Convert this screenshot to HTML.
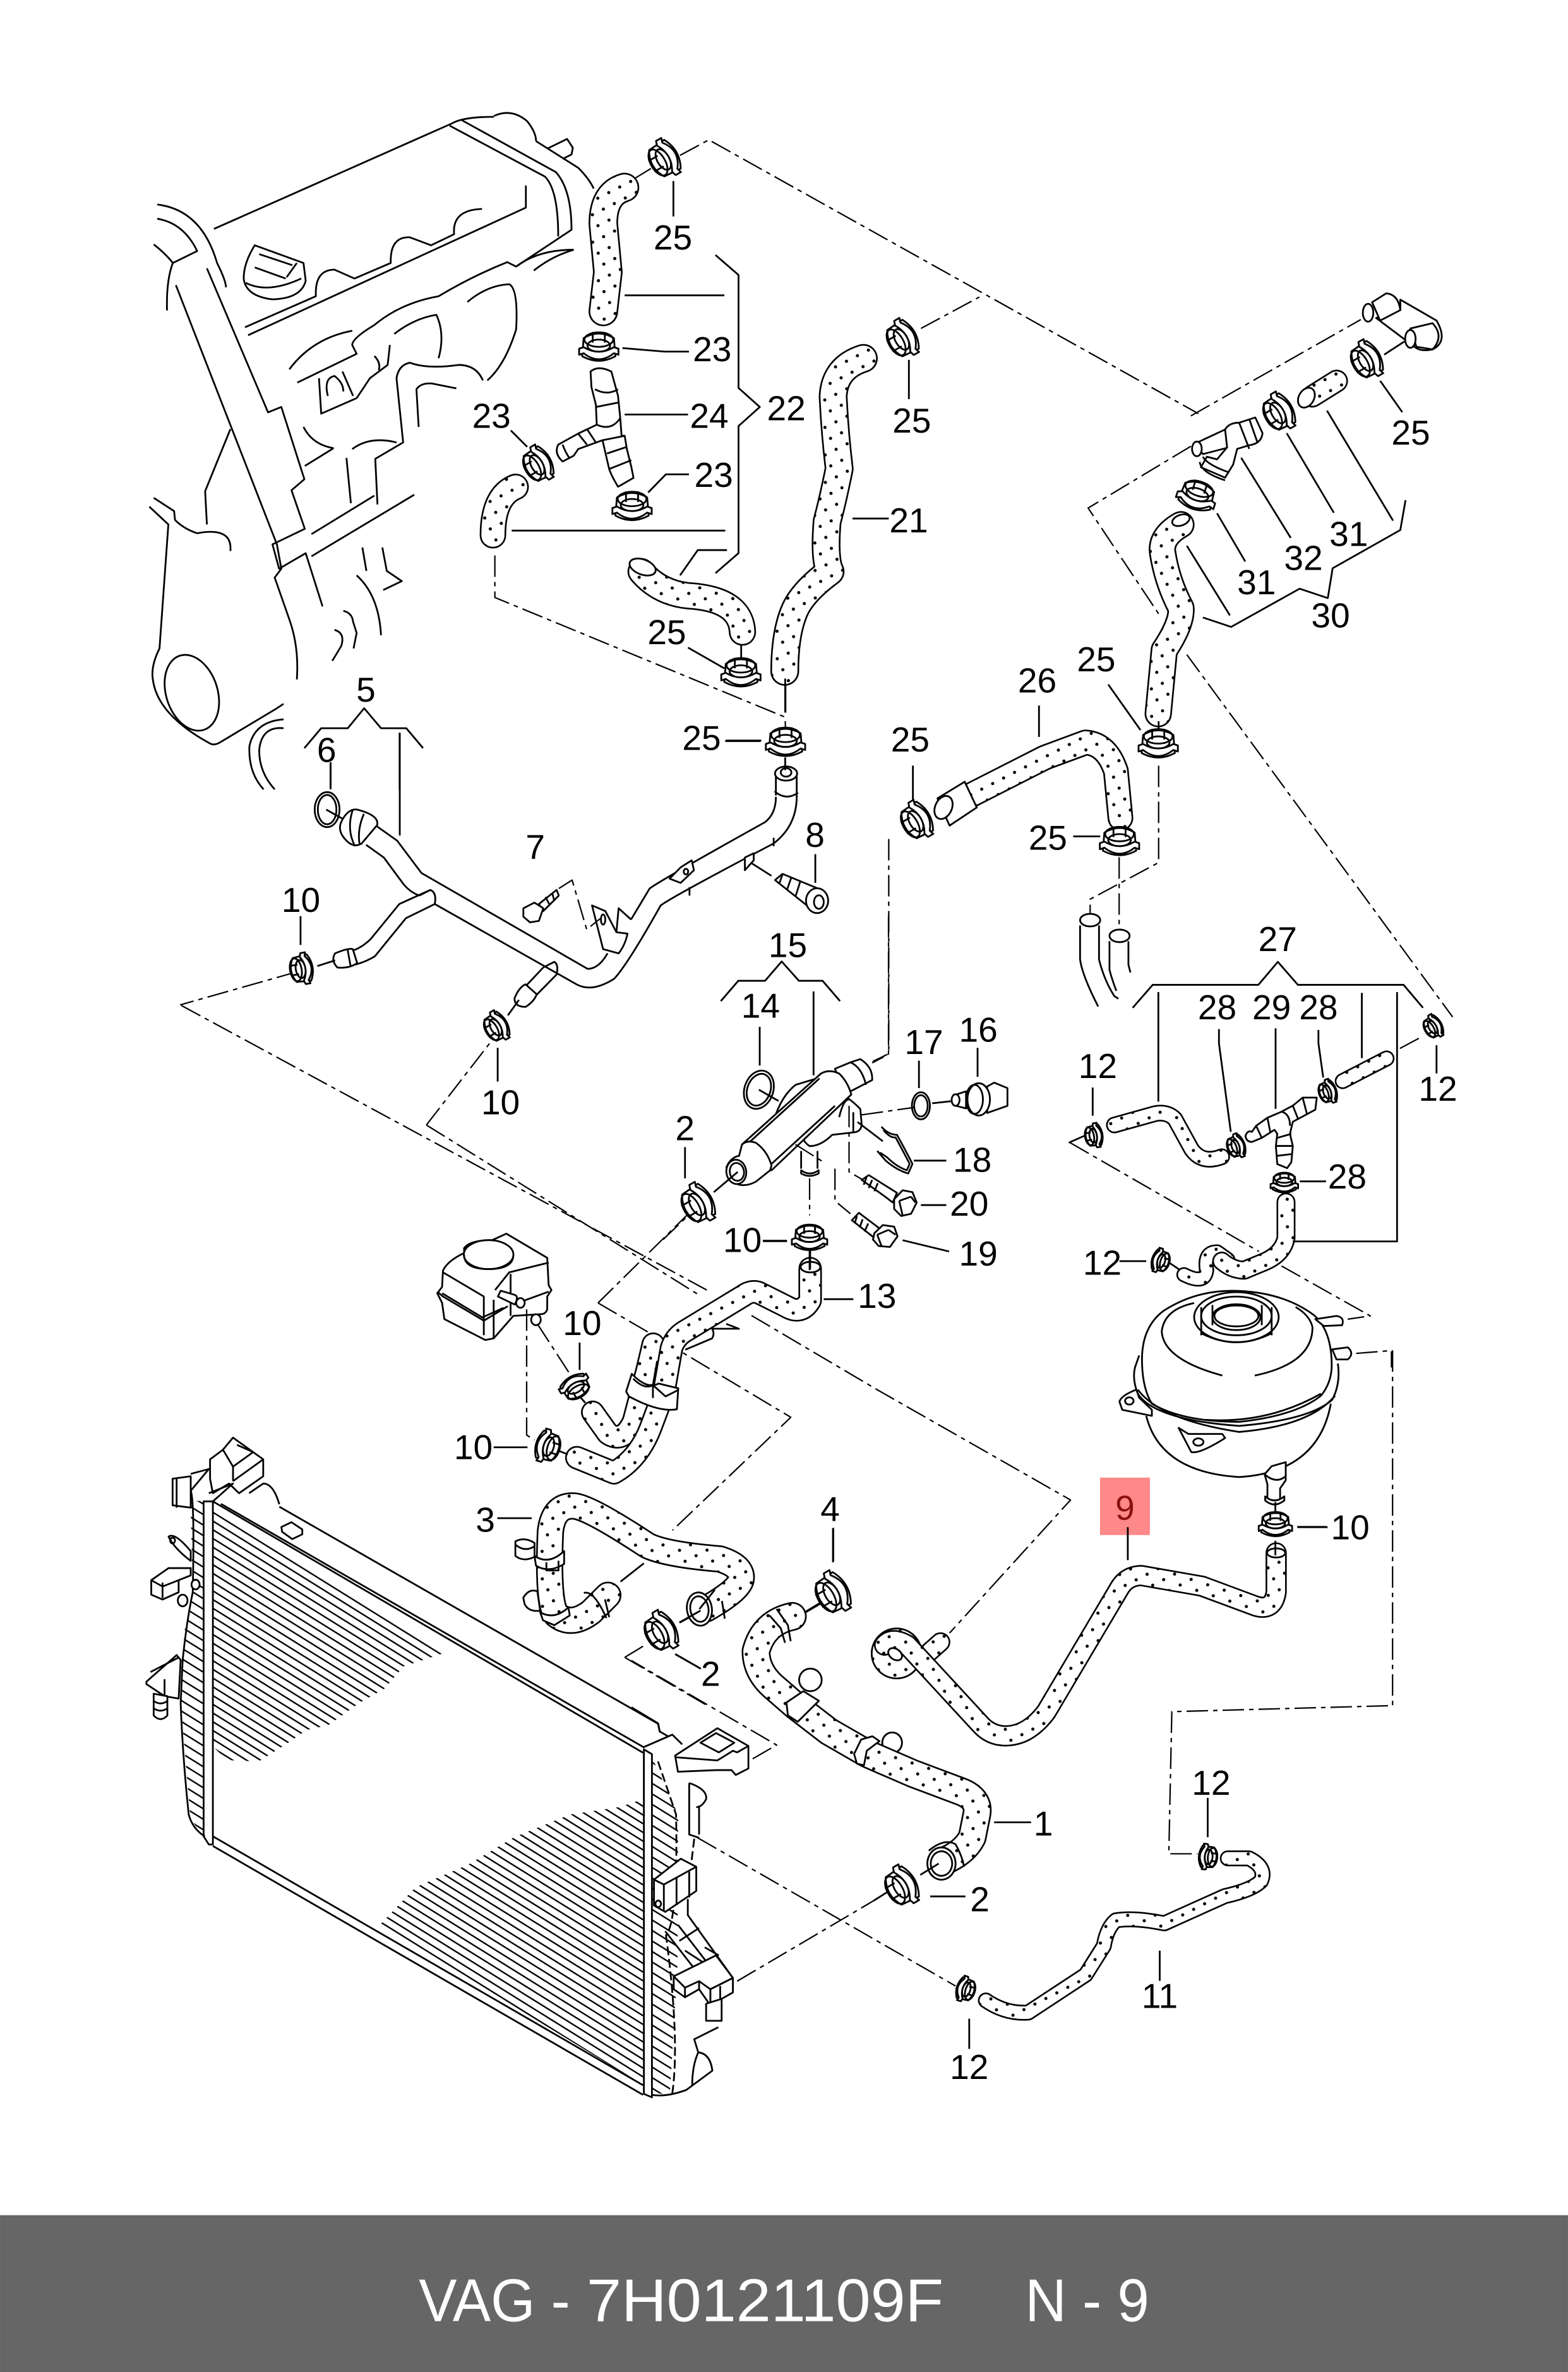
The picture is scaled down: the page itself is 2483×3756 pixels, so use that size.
<!DOCTYPE html>
<html><head><meta charset="utf-8"><title>VAG 7H0121109F</title>
<style>
html,body{margin:0;padding:0;background:#fff}
svg{display:block;position:absolute;left:0;top:0;width:2483px;height:3756px}
.a *{vector-effect:non-scaling-stroke}
.a{fill:none;stroke:#000;stroke-width:2.8;stroke-linejoin:round}
.w{fill:#fff}
.d{stroke-dasharray:34 8 7 8;stroke-width:2.2}
.o{stroke:#000;vector-effect:none!important;stroke-linecap:round}
.f{stroke:url(#p);vector-effect:none!important;stroke-linecap:round}
.t text{fill:#000;stroke:none;font-family:"Liberation Sans",sans-serif;font-size:23px;text-anchor:middle}
</style></head><body>
<svg xmlns="http://www.w3.org/2000/svg" viewBox="0 0 1037 1568.7">
<rect width="1037" height="1569" fill="#fff"/>
<rect x="727.5" y="977.2" width="33" height="38" fill="#ff8888"/>
<defs>
<pattern id="p" width="11.5" height="11.5" patternUnits="userSpaceOnUse" patternTransform="rotate(18)" stroke="none"><rect width="11.5" height="11.5" fill="#fff" stroke="none"/><circle cx="2.5" cy="2.5" r="1.05" fill="#000" stroke="none"/><circle cx="8.25" cy="8.25" r="1.05" fill="#000" stroke="none"/></pattern>
<pattern id="r" width="10" height="4.9" patternUnits="userSpaceOnUse" patternTransform="rotate(31.9)" stroke="none"><rect width="10" height="1" fill="#000" stroke="none"/></pattern>
<pattern id="r2" width="10" height="5.9" patternUnits="userSpaceOnUse" patternTransform="rotate(31.9)" stroke="none"><rect width="10" height="1" fill="#000" stroke="none"/></pattern>
</defs>
<g class="a">
<defs>
<g id="c">
<path class="w" d="M-10 -6 Q0 -12 10 -6 L11 6 Q0 12 -11 6Z"/>
<ellipse cx="0" cy="-5" rx="9.5" ry="4.8"/>
<ellipse cx="0" cy="-1" rx="7.5" ry="4"/>
<path class="w" d="M-13 1 L-10 0 Q0 6 10 0 L13 1 L13 5 L10 4 Q0 12 -10 4 L-13 5Z"/>
<path d="M-4 -10 V-3 M4 -10 V-3"/>
</g>
</defs>

<!-- engine -->
<g transform="translate(83.5,62.6) scale(.293)">
<path d="M198 303 L735 65 Q760 50 830 50 M830 48 Q870 30 905 60 Q925 85 925 105 M950 122 L995 100 L1008 120 L1005 135 L985 145"/>
<path d="M730 70 L945 185 Q975 215 975 320 M758 58 L970 175 Q1005 215 1005 305 L880 388 M925 105 L1020 165 Q1045 190 1055 212"/>
<path d="M268 525 L428 455 Q425 395 470 395 L515 415 L597 380 Q595 320 640 322 L688 340 L740 315 Q735 260 803 258 M275 543 L902 255 V205"/>
<path d="M265 415 Q265 380 290 340 L400 380 L405 420 Q395 460 330 462 Q270 455 265 415 M290 390 L360 415 M300 360 L375 385 M385 380 L362 412 M270 425 Q320 450 395 415"/>
<path d="M70 248 Q170 260 205 380 Q225 420 225 435 M70 280 Q130 290 160 353 L105 380 Q90 420 92 487 M62 338 Q90 360 105 380"/>
<path d="M112 430 L340 1015 L350 1070 L335 1090 L370 1190 Q390 1250 385 1320 M182 392 L320 717 L350 705 L402 868 L373 893 L403 980 L330 1015 L345 1070 L405 1035 L443 1155"/>
<path d="M235 755 L178 895 L182 970 M52 930 L95 970 L75 1250 Q55 1290 60 1320 Q70 1400 190 1465 Q200 1470 215 1460 L340 1385 L355 1375 M62 910 L108 940 L110 960 Q130 980 160 990 Q240 975 235 1030"/>
<ellipse cx="148" cy="1350" rx="58" ry="88" transform="rotate(-18 148 1350)"/>
<path d="M368 620 Q420 550 510 533 M386 650 L520 585 L510 565 Q510 550 560 520 Q620 470 705 455 Q780 410 860 378 L880 388 Q930 350 1010 350 M920 397 Q960 365 1010 350 M770 468 Q815 430 865 428 Q885 440 880 530 Q855 610 815 645 M605 540 Q650 505 700 497 Q720 540 705 595 M520 685 L550 640 L590 610 L595 565 M560 590 Q575 605 570 622 M435 640 L440 720 L520 685 M455 680 Q445 640 470 635 Q490 650 490 670 M488 625 L512 680"/>
<path d="M805 645 Q790 610 750 610 Q680 620 640 605 Q615 610 610 640 L625 785 L562 822 L567 925 M660 750 L655 665 Q665 650 690 652 L745 663 M400 750 Q420 790 468 798 M403 838 L468 798 M510 800 Q550 770 610 785 M497 820 L507 922 M418 992 L560 905 M418 1042 L650 903 M533 1022 L542 1075 M578 1022 L588 1075 L622 1098 L580 1118 M520 1085 Q570 1130 575 1220 M490 1165 Q510 1170 512 1190 L520 1215 L513 1250 M470 1208 Q495 1215 485 1245 L465 1278"/>
<path d="M355 1410 Q290 1415 278 1470 Q275 1530 310 1568 M355 1430 Q305 1425 300 1480 Q300 1530 335 1568"/>
<!-- leaders -->
<path d="M1235 195 V275 M1125 453 H1350 M1120 572 L1215 580 H1270 M1125 722 H1268 M868 758 L905 795 M1178 898 L1218 857 H1270 M870 984 H1352 M1250 1085 L1290 1028 H1356 M1330 1080 L1382 1035 V748 L1430 705 L1382 662 V407 L1330 362 M1268 1248 L1350 1295 M1388 1238 V1300 M1352 1459 H1432 M1488 1320 V1395"/>
<path class="d" d="M1143 192 L1195 160 M1250 137 L1315 102 L2420 720 M832 1040 V1135 L1487 1405 L1488 1430"/>
<path d="M402 1475 L440 1430 H500 L537 1385 L575 1430 H632 L670 1475 M617 1440 V1568 M461 1510 V1568"/>
</g>

<!-- long dashes at root -->
<path class="d" d="M120 665 L469 854 M282 744 L461.6 856 M497 870 L580 919 L708 992 L628 1080 M282 744 L330 682"/>
<path class="d" d="M395.5 861.7 L458 800 M395.5 861.7 L435.5 885 L523 937.3 L444.8 1012"/>
<path class="d" d="M921 893 V1128 L775 1132 L773 1226 H792"/>

<!-- radiator hatch -->
<polygon fill="url(#r)" stroke="none" points="140.8,995.5 296.6,1092.3 267,1102 254,1117 238,1126 217,1141 203,1144 190,1153 171,1165 150,1164 140.8,1155"/>
<polygon fill="url(#r)" stroke="none" points="425.3,1189.8 410,1195 377,1200 340,1215 310,1233 275,1248 251.3,1272.9 425.3,1379"/>
<polygon fill="url(#r2)" stroke="none" points="126,992 134.6,993 134.6,1214.4 126,1203 119.5,1126.5 122,1078.6 127.5,1053"/>
<polygon fill="url(#r2)" stroke="none" points="431,1161.7 448.5,1200 448,1300 443,1385.4 431,1383.8"/>

<!-- radiator -->
<g transform="translate(83.5,918.8) scale(.2664,.3196)">
<path d="M380 243 L1320 692 L1325 710 M235 237 L1283 740 M215 232 L1283 752 M215 925 L1283 1440 M215 945 L1283 1460"/>
<path class="w" d="M192 232 H215 V942 L205 942 L192 925Z"/>
<path class="w" d="M1285 745 L1305 755 V1465 L1285 1458Z"/>
<path d="M160 210 Q170 230 165 420 Q150 480 140 560 L135 650 Q140 760 155 880 Q165 910 195 925"/>
<path d="M1305 1460 Q1340 1465 1390 1450 L1455 1410 Q1450 1375 1420 1372 L1410 1345 L1470 1320 M1420 1372 Q1405 1400 1405 1440"/>
<path stroke-dasharray="14 6" d="M1320 770 L1365 880 Q1370 1100 1340 1130 Q1375 1350 1355 1460 M1410 930 L1400 1000"/>
<path class="w" d="M208 185 V145 L240 125 L265 100 L340 145 V180 L280 215 L255 195 L215 215Z"/>
<path d="M240 125 L265 160 L315 130 L275 115 M265 160 V190 M340 145 L265 190"/>
<path d="M160 175 L205 165 L160 210 M115 185 L160 180 V245 L115 240Z M125 185 V245 M205 215 L265 195 L215 232 M380 238 Q365 195 340 195 L305 215"/>
<path class="w" d="M385 285 L410 275 L437 290 V300 L412 310 L387 295Z"/>
<path class="w" d="M105 305 Q120 295 160 335 V355 Q120 330 105 305Z"/><circle cx="115" cy="313" r="6"/>
<path class="w" d="M62 395 L105 370 H160 V385 L130 395 V420 L90 435 L62 425Z"/><path d="M90 400 V432 M62 395 L90 408 L130 395"/>
<ellipse class="w" cx="172" cy="404" rx="10" ry="10"/><ellipse class="w" cx="140" cy="437" rx="12" ry="12"/>
<path class="w" d="M50 605 L125 550 L135 560 L130 640 L95 635 L50 610Z"/><path d="M60 585 L130 555 M95 600 V635"/>
<path class="w" d="M68 630 V675 Q85 690 102 675 V635Z"/><path d="M68 645 Q85 655 102 645 M68 660 Q85 670 102 660"/>
</g>
<g transform="translate(417.6,1002.3) scale(.1864,.2131)">
<path class="w" d="M155 745 L305 660 L415 715 V785 L370 805 L355 790 L300 790 L165 795Z"/>
<path d="M245 705 L300 675 L365 705 L310 735Z M155 750 L305 760 L360 730 L375 735 L415 715 M40 720 L145 680 L180 710 M95 645 L100 670 L130 685 M0 595 L95 645"/>
<path d="M205 830 Q270 850 265 880 Q250 905 230 905 M240 900 V990 M205 830 V990 L240 1000"/>
<path class="w" d="M80 1130 L175 1065 L230 1090 V1165 L120 1230 L80 1210Z"/>
<path d="M115 1145 V1225 M115 1145 L230 1090 M80 1130 L115 1145 M160 1125 V1205 M205 1105 V1185"/><circle cx="95" cy="1205" r="10"/>
<path d="M200 1190 V1240 L360 1435 V1480 L280 1520 V1470 L120 1290 M165 1270 L315 1440 M170 1320 L240 1280 M190 1350 L260 1390 M260 1340 L310 1365"/>
<path class="w" d="M150 1430 L300 1365 L360 1435 L280 1470 V1520 L240 1470 L190 1495 L150 1470Z"/>
<path d="M150 1430 L190 1465 L240 1445 V1470 M190 1465 V1495 M240 1445 L280 1470 L360 1435 M315 1460 V1500"/>
<path class="w" d="M265 1515 V1568 H320 V1500Z"/>
</g>

<!-- hoses -->
<path class="o" stroke-width="19.5" d="M413 124 Q399 128 399 148 L402 180 L399 206"/><path class="f" stroke-width="17.3" d="M413 124 Q399 128 399 148 L402 180 L399 206"/>
<path class="o" stroke-width="17.5" d="M341 322 Q326 328 326 354"/><path class="f" stroke-width="15.3" d="M341 322 Q326 328 326 354"/>
<path class="o" stroke-width="18" d="M424 378 Q436 392 455 394 Q490 396 491 418"/><path class="f" stroke-width="15.8" d="M424 378 Q436 392 455 394 Q490 396 491 418"/>
<ellipse class="w" cx="425" cy="375" rx="9" ry="5" transform="rotate(20 425 375)"/>
<path class="o" stroke-width="19" d="M571 237 Q552 243 551 262 Q552 285 555 310 Q551 330 547 345 Q545 370 549 378 Q530 392 525 405 Q519 420 519 444"/><path class="f" stroke-width="16.8" d="M571 237 Q552 243 551 262 Q552 285 555 310 Q551 330 547 345 Q545 370 549 378 Q530 392 525 405 Q519 420 519 444"/>
<path class="o" stroke-width="18" d="M781 347 Q767 355 769 366 Q772 385 781 402 Q782 412 770 430 L766 472"/><path class="f" stroke-width="15.8" d="M781 347 Q767 355 769 366 Q772 385 781 402 Q782 412 770 430 L766 472"/>
<ellipse class="w" cx="781" cy="344" rx="6" ry="3.5" transform="rotate(-20 781 344)"/>
<path class="o" stroke-width="15" d="M868 262 L884 252"/><path class="f" stroke-width="12.8" d="M868 262 L884 252"/>
<ellipse class="w" cx="864" cy="263" rx="5" ry="7" transform="rotate(30 864 263)"/>
<path class="o" stroke-width="17" d="M630 532 L691 501 L718 491 Q732 492 738 510 L741 541"/><path class="f" stroke-width="14.8" d="M630 532 L691 501 L718 491 Q732 492 738 510 L741 541"/>
<path class="w" d="M620 528 L638 517 L646 534 L628 546Z"/><ellipse class="w" cx="624" cy="534" rx="5.5" ry="8" transform="rotate(25 624 534)"/>
<path class="o" stroke-width="11" d="M737 744 L764 736.5 Q772 735 777 740 L788 760 Q795 770 808 765"/><path class="f" stroke-width="8.8" d="M737 744 L764 736.5 Q772 735 777 740 L788 760 Q795 770 808 765"/>
<path class="o" stroke-width="10.5" d="M888 715 L917 700"/><path class="f" stroke-width="8.3" d="M888 715 L917 700"/>
<path class="o" stroke-width="10" d="M783 843 Q797 850 798 840 Q796 828 805 828 L812 833"/><path class="f" stroke-width="7.8" d="M783 843 Q797 850 798 840 Q796 828 805 828 L812 833"/>
<path class="o" stroke-width="12.5" d="M850.5 795 V819 Q848 830 835 835 L823 840 Q815 840 808 834"/><path class="f" stroke-width="10.3" d="M850.5 795 V819 Q848 830 835 835 L823 840 Q815 840 808 834"/>
<path class="o" stroke-width="15.5" d="M392 934 L402 948 Q412 955 419 940 L428 906 L432 889"/><path class="f" stroke-width="13.3" d="M392 934 L402 948 Q412 955 419 940 L428 906 L432 889"/>
<path class="o" stroke-width="15.5" d="M535.8 839 V860 Q530 870 520 864 L502 855 Q497 853 491.5 857 L452 881 Q446 885 444 892 L439 921 L430 945 Q422 965 406 974 L381.5 964"/><path class="f" stroke-width="13.3" d="M535.8 839 V860 Q530 870 520 864 L502 855 Q497 853 491.5 857 L452 881 Q446 885 444 892 L439 921 L430 945 Q422 965 406 974 L381.5 964"/>
<ellipse class="w" cx="536" cy="838" rx="6.5" ry="3.5"/>
<path class="o" stroke-width="18" d="M402 1055 L391 1066 Q378 1076 368 1068 Q362 1060 364 1013 Q366 995 380 996 Q390 997 428 1022 Q440 1028 476 1031 Q492 1036 490 1045 Q488 1052 467 1064"/><path class="f" stroke-width="15.8" d="M402 1055 L391 1066 Q378 1076 368 1068 Q362 1060 364 1013 Q366 995 380 996 Q390 997 428 1022 Q440 1028 476 1031 Q492 1036 490 1045 Q488 1052 467 1064"/>
<g transform="translate(417.6,1002.3) scale(.1864,.2131)">
<ellipse cx="635" cy="510" rx="40" ry="35"/><ellipse cx="925" cy="705" rx="35" ry="32"/>
</g>
<path class="o" stroke-width="19" d="M524 1069 Q505 1073 500 1092 Q500 1105 511 1115 L526 1128 L548 1145 L574 1160 L604 1173 L636 1185 Q648 1190 646 1200 L643 1215 Q638 1225 624 1231"/><path class="f" stroke-width="16.8" d="M524 1069 Q505 1073 500 1092 Q500 1105 511 1115 L526 1128 L548 1145 L574 1160 L604 1173 L636 1185 Q648 1190 646 1200 L643 1215 Q638 1225 624 1231"/>
<circle cx="593" cy="1093.5" r="16.5" fill="url(#p)"/>
<path class="o" stroke-width="13" d="M613 1094 L622 1086"/><path class="f" stroke-width="10.8" d="M613 1094 L622 1086"/>
<path class="o" stroke-width="14" d="M844 1027 V1053 Q842 1066 830 1062 L795 1049 L755 1042 Q745 1042 740 1051 L692 1132 Q680 1148 665 1148 Q655 1148 648 1140 L600 1088 Q590 1082 585 1088"/><path class="f" stroke-width="11.8" d="M844 1027 V1053 Q842 1066 830 1062 L795 1049 L755 1042 Q745 1042 740 1051 L692 1132 Q680 1148 665 1148 Q655 1148 648 1140 L600 1088 Q590 1082 585 1088"/>
<ellipse class="w" cx="592" cy="1094" rx="5" ry="3.5" transform="rotate(35 592 1094)"/>
<ellipse class="w" cx="844" cy="1027" rx="6" ry="3"/>
<path class="o" stroke-width="10.5" d="M812 1229 L826 1229 Q838 1235 834 1244 Q828 1250 810 1254 L770 1272 Q750 1268 738 1270 Q732 1275 730 1287 L718 1306 L680 1331 Q665 1332 652 1323"/><path class="f" stroke-width="8.3" d="M812 1229 L826 1229 Q838 1235 834 1244 Q828 1250 810 1254 L770 1272 Q750 1268 738 1270 Q732 1275 730 1287 L718 1306 L680 1331 Q665 1332 652 1323"/>

<!-- details zoom 8 -->
<g transform="translate(271.5,793.5) scale(.1864,.2131)">
<path class="w" d="M115 220 Q130 190 190 165 L190 150 Q210 125 290 125 L340 105 L485 180 L490 265 L500 280 L485 300 V340 Q480 355 460 355 L365 360 L295 430 L265 435 L120 370 L112 320 L95 290 L112 270Z"/>
<path d="M115 225 L260 300 V420 M300 280 L350 225 L490 195 M112 290 L255 365 L330 335 M95 285 L115 300 L260 375 L345 330 M355 230 V360 M295 310 V430 M380 320 L490 285"/>
<ellipse class="w" cx="277" cy="170" rx="88" ry="45"/>
<path d="M190 170 Q190 215 277 215 Q365 215 365 170"/>
<path class="w" d="M310 300 L370 325 Q385 300 370 295 L320 282Z"/><circle class="w" cx="390" cy="320" r="15"/><circle class="w" cx="445" cy="372" r="17"/>
<path class="d" d="M412 340 V730 L440 745 M450 385 L565 540"/>
<path class="w" d="M765 595 L785 540 Q840 590 880 570 L950 585 L945 650 Q880 660 775 610Z"/>
<path d="M790 555 Q830 590 860 575 L905 610 L950 590 M860 575 V615 M875 500 L860 575"/>
<path d="M975 465 L1070 430 Q1080 415 1070 400 L1165 400 L1120 385"/>
<path d="M600 443 V528 M500 770 L558 790 M620 630 L600 610 M295 768 H415 M308 988 H430 M745 1185 L828 1128 M955 1312 L1028 1277 M940 1410 L1030 1455 M1500 1018 V1122 M1398 1282 L1490 1235 M1250 127 H1335 M1418 155 V215"/>
<path class="d" d="M760 1420 L835 1380 M760 1420 L1050 1568"/>
<path class="w" d="M372 1060 Q405 1045 440 1065 V1108 Q400 1125 372 1105Z"/><path d="M372 1070 Q405 1095 440 1075"/>
<path class="w" d="M400 1235 Q420 1205 450 1215 L460 1275 Q420 1280 405 1255Z"/>
<path class="w" d="M440 1105 Q490 1135 545 1090 V1130 Q490 1160 445 1135Z"/><path d="M482 1125 V1150 H525 V1120"/>
<path class="w" d="M460 1280 Q510 1305 560 1265 L565 1290 L510 1320 L470 1305Z"/>
<path d="M615 1220 Q650 1210 695 1298 M690 1240 L705 1295"/>
<ellipse class="w" cx="1025" cy="1270" rx="44" ry="52" transform="rotate(-15 1025 1270)"/><ellipse cx="1025" cy="1270" rx="32" ry="40" transform="rotate(-15 1025 1270)"/>
<path d="M1025 1270 L1080 1210 M1105 1245 L1115 1300"/>
</g>

<!-- zoom 9 extras -->
<g transform="translate(417.6,1002.3) scale(.1864,.2131)">
<path class="w" d="M550 580 L610 545 L665 575 L590 640 L555 620Z"/><path class="w" d="M790 740 L815 695 L855 685 L880 700 L835 730 L825 775 L800 770Z"/>
<path d="M490 310 L530 350 L545 395 M515 290 L555 340 L565 390"/>
<ellipse class="w" cx="1100" cy="1080" rx="50" ry="50" transform="rotate(-15 1100 1080)"/><ellipse cx="1100" cy="1080" rx="38" ry="38" transform="rotate(-15 1100 1080)"/>
<path d="M1055 1040 Q1110 1000 1150 1020 Q1175 1060 1180 1090"/>
<path d="M715 40 V145 M615 300 L690 260 M1025 1115 L1090 1080 M860 1195 L950 1145 M1060 1182 H1185 M1287 952 H1418 M155 430 L245 475 M170 332 L245 295"/>
<path class="d" d="M375 1445 L860 1195 M235 1000 L1150 1460 M430 755 L515 712 L0 450"/>
</g>

<!-- zoom 4 -->
<g transform="translate(563.8,167) scale(.2664,.3463)">
<path class="d" d="M170 145 L315 85 M840 312 L1262 128 M840 370 L585 488 L760 690 M830 768 L1490 1460 M760 980 V1165 L590 1235 V1265 M662 1155 V1300 M90 1120 V1530 L50 1545"/>
<path class="w" d="M1360 90 L1450 130 Q1480 170 1440 185 Q1410 190 1395 180 L1300 125 L1360 110Z"/>
<path class="w" d="M1290 95 L1325 78 Q1355 80 1360 110 L1310 130Z"/><path class="w" d="M1385 145 L1440 135 Q1470 160 1440 185 L1400 180Z"/>
<ellipse class="w" cx="1280" cy="115" rx="13" ry="17"/><ellipse class="w" cx="1385" cy="165" rx="13" ry="17"/>
<path class="w" d="M850 365 L925 338 L935 372 L870 385Z"/><ellipse class="w" cx="855" cy="375" rx="12" ry="14"/>
<path class="w" d="M925 338 Q935 325 960 325 L1000 315 L1018 345 Q1015 365 985 368 L955 375 L945 405 L925 430 L865 410 L880 390 L905 395 L930 372Z"/>
<path d="M960 325 L985 375 M985 318 L1005 362 M862 400 Q865 420 925 435 M870 390 Q880 405 935 420"/>
<path d="M140 205 V280 M1310 245 L1365 305 M1178 302 L1342 512 M1078 345 L1195 497 M965 392 L1088 545 M905 498 L975 590 M830 560 L937 693 M870 697 L940 715 L1110 642 L1180 660 L1192 603 L1360 530 L1373 473 M635 825 L715 912 M760 895 V960 M548 1115 H615 M150 980 V1045 M463 865 V925 M0 508 H90 M1320 195 L1370 170"/>
<ellipse class="w" cx="590" cy="1275" rx="25" ry="12"/><ellipse class="w" cx="663" cy="1305" rx="25" ry="12"/>
<path d="M565 1285 V1350 Q570 1380 610 1440 M612 1285 V1350 Q625 1390 650 1420 L660 1425 M638 1315 V1370 Q645 1390 655 1410 M685 1315 V1360 L690 1375"/>
</g>

<!-- zoom 5 -->
<g transform="translate(689.1,584.7) scale(.1864,.2664)">
<path d="M322 307 L393 250 H768 L837 193 L908 250 H1283 L1352 307 M413 268 V540 M1135 270 V432 M1260 268 V887 H890 M628 360 V395 L670 615 M829 358 V558 M981 362 V395 L998 480 M915 738 H1008 M275 936 H370 M180 505 V575 M1400 400 V470 M95 642 L150 625 M420 925 L490 958"/>
<path class="d" d="M100 642 L770 912 M850 948 L1165 1072 L1085 1080 M1270 408 L1345 380 M1115 1165 L1240 1158 V1200"/>
<path class="w" d="M722 625 Q730 610 745 615 L760 600 L800 580 L850 565 L890 550 L925 530 L975 530 L970 560 L890 590 L880 620 L890 650 L885 690 L870 705 L835 695 L830 650 L835 620 L825 610 L780 630 L745 640 Q725 640 722 625Z"/>
<path d="M760 600 L780 630 M800 580 L810 615 M890 550 L910 585 M925 530 L940 570 M835 630 L885 620 M830 650 L890 650 M830 675 L888 670 M850 565 Q880 570 880 600"/>
<path class="w" d="M355 1180 Q355 1100 430 1060 Q550 1005 700 1010 Q860 1015 965 1070 Q1030 1110 1028 1200 Q1025 1240 990 1270 Q900 1320 700 1335 Q500 1335 390 1290 Q355 1250 355 1180Z"/>
<path d="M345 1170 L330 1200 Q320 1230 340 1265 Q400 1330 700 1345 Q950 1330 1030 1280 Q1060 1240 1050 1190 M340 1255 Q420 1330 700 1360 Q950 1345 1040 1270 M370 1320 Q420 1460 700 1472 Q980 1460 1025 1290 M580 1330 Q800 1340 990 1265"/>
<path d="M425 1110 Q430 1180 640 1220 M755 1220 Q960 1190 960 1100 M425 1110 Q435 1055 540 1040 M960 1100 Q950 1070 900 1050"/>
<ellipse class="w" cx="690" cy="1075" rx="150" ry="62"/><ellipse cx="690" cy="1072" rx="125" ry="48"/><ellipse cx="690" cy="1075" rx="85" ry="32"/><ellipse cx="690" cy="1072" rx="78" ry="26"/>
<path d="M565 1050 V1120 M815 1050 V1120 M565 1115 Q690 1160 815 1115 M605 1045 V1095 M780 1045 V1095"/>
<path class="w" d="M275 1285 Q280 1270 335 1255 L345 1275 L390 1305 V1320 L285 1305Z"/><ellipse cx="310" cy="1283" rx="15" ry="9"/>
<path class="w" d="M485 1350 L530 1410 Q560 1415 650 1375 L640 1365 L520 1365Z"/><ellipse cx="555" cy="1385" rx="18" ry="9"/>
<path class="w" d="M970 1080 L1045 1072 Q1075 1075 1065 1095 L1000 1097Z"/><path class="w" d="M1030 1155 L1085 1150 Q1110 1165 1085 1180 L1045 1180Z"/>
<path class="w" d="M790 1465 L815 1445 L865 1435 V1480 L845 1500 V1530 H800 V1490Z"/><path class="w" d="M792 1520 Q825 1540 860 1520 V1530 Q825 1550 792 1530Z"/>
<path d="M790 1465 Q830 1490 865 1470"/>
</g>

<!-- zoom 6 -->
<g transform="translate(438.5,605.6) scale(.1864,.2131)">
<path d="M205 265 L267 202 H362 L421 142 L482 202 H566 L628 265 M534 235 V495 M343 345 V465 M340 540 L410 575"/>
<ellipse cx="340" cy="540" rx="50" ry="62" transform="rotate(30 340 540)"/><ellipse cx="340" cy="540" rx="40" ry="52" transform="rotate(30 340 540)"/>
<path class="w" d="M395 630 Q420 560 470 525 L545 505 L440 600Z"/>
<path class="w" d="M495 680 L610 590 L630 560 Q650 555 700 600 L705 650 Q700 670 680 672 L600 680 Q560 715 520 715 Q495 700 495 680Z"/>
<path class="w" d="M610 475 L665 455 L700 445 Q745 470 742 510 L665 545 L630 520Z"/>
<path class="w" d="M280 710 L560 490 Q590 475 625 490 Q655 515 668 555 L385 790 L350 790Z"/>
<path d="M310 700 L555 505 M385 770 L610 590 M665 455 Q705 470 720 525"/>
<path class="w" d="M225 780 Q240 750 270 745 L280 710 Q300 695 330 705 Q370 730 385 775 L380 790 L330 825 Q300 840 270 835 Q230 820 225 780Z"/>
<ellipse class="w" cx="260" cy="795" rx="35" ry="38" transform="rotate(-20 260 795)"/><ellipse cx="262" cy="795" rx="25" ry="28" transform="rotate(-20 262 795)"/>
<path d="M675 610 V670 M625 625 Q640 570 660 570 M490 730 V785 M548 730 V785 M265 795 L180 858 M78 718 V815"/>
<path class="w" d="M490 790 Q520 810 552 790 L552 800 Q520 815 490 800Z"/>
<path class="d" d="M470 710 L570 765 M610 785 V885 L665 925 M660 590 V795 L710 820 M705 618 L890 595 M0 1005 L120 905 M800 0 V430 L742 457 M520 815 V930"/>
<ellipse cx="915" cy="590" rx="32" ry="42"/><ellipse cx="915" cy="590" rx="24" ry="33"/>
<path d="M955 582 L1030 575 M690 640 L780 700 M1116 410 V500 M908 450 V535 M890 760 H1005 M915 898 H1005 M850 1007 L1015 1042 M355 1010 H440 M520 1035 V1100 M570 1190 H675"/>
<path class="w" d="M1150 530 L1175 518 L1222 535 V590 L1150 612Z"/>
<ellipse class="w" cx="1120" cy="570" rx="40" ry="50"/><ellipse cx="1105" cy="570" rx="30" ry="45"/>
<path class="w" d="M1040 555 L1075 545 V598 L1040 590Z"/><ellipse class="w" cx="1038" cy="572" rx="14" ry="18"/>
<path d="M775 655 Q800 680 830 680 L855 720 L885 770 L870 800 Q830 790 790 760 L760 730 M782 665 Q805 690 825 688 L848 725 L875 770 L865 790 Q830 780 795 750 L770 735"/>
<path class="w" d="M705 820 L730 805 L830 860 L815 890 L785 870Z"/><path d="M722 812 L712 835 M742 820 L730 845 M762 830 L750 855"/>
<path class="w" d="M820 880 L850 852 L885 858 L900 890 L880 925 L845 932 L820 910Z"/><path d="M838 885 L880 872 M838 885 L850 930 M880 872 L895 890"/>
<path class="w" d="M670 945 L695 922 L775 975 L750 1000Z"/><path d="M688 932 L680 955 M708 942 L698 968 M728 955 L715 980"/>
<path class="w" d="M750 985 L780 960 L820 965 L832 995 L805 1028 L765 1025 L745 1005Z"/><path d="M760 990 L800 975 M760 990 L775 1025 M800 975 L825 990"/>
</g>

<!-- zoom 7 -->
<g transform="translate(104.4,438.5) scale(.293,.1864)">
<path d="M546 248 V612 M390 352 V445 M380 520 L420 555"/>
<ellipse cx="382" cy="520" rx="28" ry="62"/><ellipse cx="382" cy="520" rx="21" ry="52"/>
<path d="M495 580 L540 630 L595 745 L970 1085 Q995 1085 1015 1030 M470 645 L510 690 L550 775 Q565 810 590 825 M625 855 L945 1140 Q980 1170 1030 1120 Q1060 1070 1135 860 Q1160 830 1390 640 Q1440 580 1442 480 M1068 910 L1110 800 Q1130 775 1370 565 Q1395 535 1395 475"/>
<path d="M1395 400 V470 M1442 400 V480 M1392 455 Q1418 490 1445 460"/><ellipse cx="1418" cy="392" rx="25" ry="25"/><ellipse cx="1418" cy="388" rx="12" ry="15"/>
<path d="M590 825 L615 805 Q630 815 625 855 L560 905 L490 1040 Q470 1060 445 1070 M615 805 L545 855 L480 980 Q460 1010 440 1020"/>
<path class="w" d="M400 1030 Q430 1010 440 1015 L450 1065 Q430 1085 405 1080 Q390 1055 400 1030Z"/><path d="M428 1015 L435 1075"/>
<path d="M870 1080 L895 1060 Q905 1070 900 1105 L850 1185 L835 1215 M870 1080 L810 1180"/>
<path class="w" d="M805 1190 Q815 1150 830 1140 L855 1175 Q850 1200 830 1220 Q805 1220 805 1190Z"/>
<path class="w" d="M415 560 Q430 515 450 520 Q500 540 495 575 L460 640 Q440 660 420 620 Q405 590 415 560Z"/><path d="M465 535 Q450 590 455 640 M440 520 Q425 590 445 650"/>
<path class="w" d="M980 860 L1010 880 L1035 955 L1060 960 Q1055 1000 1040 1030 L1005 1015Z"/><path d="M1035 955 L1040 870 L1068 910"/><ellipse cx="1005" cy="910" rx="5" ry="18"/>
<path class="d" d="M905 800 L935 770 L968 945 L1000 905"/>
<path class="w" d="M860 855 L900 805 L905 825 L870 880Z"/><path class="w" d="M825 870 L850 850 L870 870 L860 915 L840 920 L825 900Z"/><path d="M875 830 L885 860 M890 815 L895 845"/>
<path class="w" d="M1393 770 L1410 748 L1490 800 L1465 860Z"/><path d="M1410 750 L1402 785 M1430 760 L1420 805 M1450 775 L1440 825"/>
<ellipse class="w" cx="1488" cy="843" rx="25" ry="44"/><ellipse cx="1492" cy="848" rx="11" ry="24"/>
<path d="M1335 705 L1385 755"/>
<path class="w" d="M1155 765 L1180 780 L1210 735 L1205 700 L1180 725Z"/><ellipse cx="1192" cy="740" rx="5" ry="10"/>
<path class="w" d="M1325 690 L1345 675 V700 L1325 735 Z"/>
<path d="M1390 620 V650 M1200 795 V825 M1484 678 V780 M322 898 V1000 M767 1365 V1485 M360 1075 L400 1055 M1282 275 H1362 M1416 55 V175 M1416 335 V380 M790 1250 L815 1195"/>
<path class="d" d="M315 1095 L50 1213"/>
</g>

<!-- zoom 1 T fitting -->
<g transform="translate(83.5,62.6) scale(.293)">
<path class="w" d="M1048 625 Q1065 610 1095 625 L1110 680 L1115 730 L1118 770 L1125 770 L1130 800 L1140 840 L1145 865 L1110 885 Q1095 860 1090 845 L1075 780 L1020 800 L1010 815 L985 828 Q965 810 975 790 L1020 765 L1062 745 L1060 700 L1050 660Z"/>
<path d="M1058 665 Q1085 680 1110 665 M1060 705 L1110 695 M1062 745 Q1095 760 1115 730 M1075 780 L1125 770 M1085 810 L1130 795 M1090 845 L1140 825 M1020 765 L1040 790 M985 790 Q990 805 1000 820 M1040 755 L1060 785"/>
</g>

<!-- zoom 2 -->
<g transform="translate(543,918.8) scale(.2131)">
<path d="M952 428 V530 M1410 350 V420 M1410 470 V515 M1478 427 H1568"/>
<path d="M1200 1268 V1390"/>
</g>
<path d="M858 1010 H878 M767 1290 V1310 M641 1335 V1355"/>

<!-- clips -->
<g>
<use href="#c" transform="translate(439.5,105) rotate(-120)"/>
<use href="#c" transform="translate(396,229.6)"/>
<use href="#c" transform="translate(356,307) rotate(-120) scale(.95)"/>
<use href="#c" transform="translate(418,335)"/>
<use href="#c" transform="translate(490,445)"/>
<use href="#c" transform="translate(519.5,491)"/>
<use href="#c" transform="translate(597,224) rotate(-120)"/>
<use href="#c" transform="translate(904,238) rotate(-120)"/>
<use href="#c" transform="translate(846,272.6) rotate(-120)"/>
<use href="#c" transform="translate(791.6,328) rotate(18)"/>
<use href="#c" transform="translate(766,492)"/>
<use href="#c" transform="translate(606.4,542.7) rotate(-120)"/>
<use href="#c" transform="translate(740.4,556.6)"/>
<use href="#c" transform="translate(723.6,751) rotate(-100) scale(.62)"/>
<use href="#c" transform="translate(817.7,758) rotate(-110) scale(.62)"/>
<use href="#c" transform="translate(878.3,722) rotate(-110) scale(.62)"/>
<use href="#c" transform="translate(849.4,782.4) scale(.7)"/>
<use href="#c" transform="translate(948,679) rotate(-120) scale(.62)"/>
<use href="#c" transform="translate(767.4,833.8) rotate(107) scale(.62)"/>
<use href="#c" transform="translate(199.6,640.7) rotate(-100) scale(.8)"/>
<use href="#c" transform="translate(328.5,679) rotate(-120) scale(.8)"/>
<use href="#c" transform="translate(461.8,796) rotate(-120) scale(1.05)"/>
<use href="#c" transform="translate(535.4,818.7) scale(.9)"/>
<use href="#c" transform="translate(380.5,917) rotate(150) scale(.8)"/>
<use href="#c" transform="translate(362,956.5) rotate(107) scale(.85)"/>
<use href="#c" transform="translate(437.4,1079) rotate(-120) scale(1.05)"/>
<use href="#c" transform="translate(551,1053.5) rotate(-120) scale(1.1)"/>
<use href="#c" transform="translate(596.5,1247.4) rotate(-120) scale(1.05)"/>
<use href="#c" transform="translate(843.5,1008.3) scale(.85)"/>
<use href="#c" transform="translate(798.7,1228) rotate(95) scale(.65)"/>
<use href="#c" transform="translate(638.5,1315.6) rotate(107) scale(.65)"/>
</g>
</g>

<!-- labels -->
<g class="t">
<text x="445" y="165">25</text><text x="471" y="239">23</text><text x="469" y="283">24</text><text x="520" y="278">22</text>
<text x="325" y="283">23</text><text x="472" y="322">23</text><text x="603" y="286">25</text><text x="601" y="352">21</text>
<text x="441" y="426">25</text><text x="464" y="496">25</text><text x="242" y="464">5</text><text x="216" y="504">6</text>
<text x="354" y="568">7</text><text x="539" y="560">8</text><text x="602" y="497">25</text><text x="686" y="458">26</text>
<text x="725" y="444">25</text><text x="693" y="562">25</text><text x="933" y="294">25</text><text x="862" y="377">32</text>
<text x="892" y="361">31</text><text x="831" y="393">31</text><text x="880" y="415">30</text><text x="845" y="629">27</text>
<text x="805" y="674">28</text><text x="841" y="674">29</text><text x="872" y="674">28</text><text x="726" y="713">12</text>
<text x="951" y="728">12</text><text x="891" y="786">28</text><text x="729" y="843">12</text><text x="199" y="603">10</text>
<text x="331" y="737">10</text><text x="521" y="633">15</text><text x="503" y="673">14</text><text x="611" y="697">17</text>
<text x="647" y="689">16</text><text x="453" y="754">2</text><text x="643" y="775">18</text><text x="641" y="804">20</text>
<text x="647" y="837">19</text><text x="491" y="828">10</text><text x="580" y="865">13</text><text x="385" y="883">10</text>
<text x="313" y="965">10</text><text x="321" y="1013">3</text><text x="549" y="1006">4</text><text x="470" y="1115">2</text>
<text x="690" y="1214">1</text><text x="648" y="1264">2</text><text x="767" y="1328">11</text><text x="801" y="1187">12</text>
<text x="641" y="1375">12</text><text x="893" y="1018">10</text>
<text x="744" y="1005" style="fill:#8c1010">9</text>
</g>

<!-- footer -->
<rect x="0" y="1465" width="1037" height="104" fill="#666666"/>
<g fill="#fff" font-family="Liberation Sans, sans-serif" font-size="40">
<text x="277" y="1535" textLength="100" lengthAdjust="spacingAndGlyphs">VAG -</text>
<text x="388" y="1535" textLength="236" lengthAdjust="spacingAndGlyphs">7H0121109F</text>
<text x="678" y="1535" textLength="82" lengthAdjust="spacingAndGlyphs">N - 9</text>
</g>
</svg>
</body></html>
